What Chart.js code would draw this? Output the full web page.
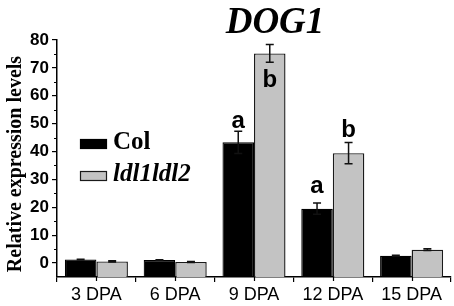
<!DOCTYPE html>
<html>
<head>
<meta charset="utf-8">
<script src="https://cdn.jsdelivr.net/npm/chart.js@4.4.1/dist/chart.umd.min.js"></script>
<style>
html,body{margin:0;padding:0;background:#fff;}
#wrap{width:454px;height:306px;}
</style>
</head>
<body>
<div id="wrap"><canvas id="c" width="454" height="306"></canvas></div>
<script>
// ---- data ----
const categories = ['3 DPA', '6 DPA', '9 DPA', '12 DPA', '15 DPA'];
const seriesNames = ['Col', 'ldl1ldl2'];
const colValues = [1.3, 1.1, 43.3, 19.5, 2.6];
const colErrors = [0.1, 0.1, 4.0, 2.0, 0.2];
const ldlValues = [0.6, 0.4, 75.2, 39.4, 4.8];
const ldlErrors = [0.2, 0.2, 3.2, 3.8, 0.3];
const colLetters = ['', '', 'a', 'a', ''];
const ldlLetters = ['', '', 'b', 'b', ''];
const yTicks = [0, 10, 20, 30, 40, 50, 60, 70, 80];
const yMinorTicks = [5, 15, 25, 35, 45, 55, 65, 75];
const yMin = -5, yMax = 80;
const titleText = 'DOG1';
const yTitleText = 'Relative expression levels';

// ---- styles (pixel offsets for significance letters) ----
const letterGap = { col: [0, 0, 3, 10, 0], ldl: [0, 0, -34, 6, 0] }; // negative => inside bar, below top

const SERIF = '"Liberation Serif", "Times New Roman", serif';
const SANS = '"Liberation Sans", Arial, sans-serif';

const extras = {
  id: 'extras',
  afterDatasetsDraw(chart) {
    const ctx = chart.ctx;
    const y = chart.scales.y, x = chart.scales.x;
    const sets = [
      { vals: colValues, errs: colErrors, letters: colLetters, gap: letterGap.col },
      { vals: ldlValues, errs: ldlErrors, letters: ldlLetters, gap: letterGap.ldl }
    ];
    ctx.save();
    sets.forEach((s, di) => {
      const meta = chart.getDatasetMeta(di);
      meta.data.forEach((el, i) => {
        const cx = el.x;
        const top = y.getPixelForValue(s.vals[i] + s.errs[i]);
        const bot = y.getPixelForValue(s.vals[i] - s.errs[i]);
        ctx.strokeStyle = '#111';
        ctx.lineWidth = 1.5;
        ctx.beginPath();
        ctx.moveTo(cx, top); ctx.lineTo(cx, bot);
        ctx.moveTo(cx - 4, top); ctx.lineTo(cx + 4, top);
        ctx.moveTo(cx - 4, bot); ctx.lineTo(cx + 4, bot);
        ctx.stroke();
        if (s.letters[i]) {
          ctx.fillStyle = '#000';
          ctx.font = 'bold 24px ' + SANS;
          ctx.textAlign = 'center';
          ctx.textBaseline = 'alphabetic';
          let by;
          if (s.gap[i] < 0) by = y.getPixelForValue(s.vals[i]) - s.gap[i];
          else by = top - s.gap[i];
          ctx.fillText(s.letters[i], cx, by);
        }
      });
    });
    // minor ticks
    ctx.strokeStyle = '#000';
    ctx.lineWidth = 1.2;
    ctx.beginPath();
    yMinorTicks.forEach(v => {
      const py = Math.round(y.getPixelForValue(v)) + 0.5;
      ctx.moveTo(y.right - 3, py); ctx.lineTo(y.right, py);
    });
    categories.forEach((c, i) => {
      const px = Math.round(x.getPixelForValue(i)) + 0.5;
      ctx.moveTo(px, x.top); ctx.lineTo(px, x.top + 4);
    });
    ctx.stroke();
    ctx.restore();
  },
  afterDraw(chart) {
    const ctx = chart.ctx;
    ctx.save();
    // title
    ctx.fillStyle = '#000';
    ctx.font = 'italic bold 37px ' + SERIF;
    ctx.textAlign = 'center';
    ctx.textBaseline = 'alphabetic';
    ctx.fillText(titleText, 275, 33);
    // y title
    ctx.save();
    ctx.translate(21, 164);
    ctx.rotate(-Math.PI / 2);
    ctx.font = 'bold 20px ' + SERIF;
    ctx.textAlign = 'center';
    ctx.textBaseline = 'alphabetic';
    ctx.fillText(yTitleText, 0, 0);
    ctx.restore();
    // legend
    const ds = chart.data.datasets;
    const rows = [{ y: 149, font: 'bold 25px ' + SERIF }, { y: 181, font: 'italic bold 25px ' + SERIF }];
    rows.forEach((r, i) => {
      ctx.fillStyle = ds[i].backgroundColor;
      ctx.fillRect(80, r.y - 10, 27, 10);
      ctx.strokeStyle = ds[i].borderColor;
      ctx.lineWidth = 1.2;
      ctx.strokeRect(80.5, r.y - 9.5, 26, 9);
      ctx.fillStyle = '#000';
      ctx.font = r.font;
      ctx.textAlign = 'left';
      ctx.fillText(seriesNames[i], 113, r.y);
    });
    ctx.restore();
  }
};

new Chart(document.getElementById('c'), {
  type: 'bar',
  data: {
    labels: categories,
    datasets: [
      { label: seriesNames[0], data: colValues, backgroundColor: '#000000', borderColor: '#000000', borderWidth: 1.2, base: yMin, categoryPercentage: 0.8, barPercentage: 1.0 },
      { label: seriesNames[1], data: ldlValues, backgroundColor: '#c3c3c3', borderColor: '#1a1a1a', borderWidth: 1.4, base: yMin, categoryPercentage: 0.8, barPercentage: 1.0 }
    ]
  },
  options: {
    responsive: false,
    animation: false,
    devicePixelRatio: 1,
    layout: { padding: { top: 40, right: 3, left: 0, bottom: 0 } },
    plugins: { legend: { display: false }, title: { display: false }, tooltip: { enabled: false } },
    scales: {
      x: {
        offset: true,
        grid: { offset: true, drawOnChartArea: false, drawTicks: true, tickLength: 5, color: '#000', lineWidth: 1.2 },
        border: { color: '#000', width: 1.5 },
        ticks: { color: '#000', font: { family: SANS, size: 18 }, padding: 2, maxRotation: 0 },
        afterFit(s) { s.height = 29; }
      },
      y: {
        min: yMin, max: yMax,
        afterBuildTicks(s) { s.ticks = yTicks.map(v => ({ value: v })); },
        grid: { drawOnChartArea: false, drawTicks: true, tickLength: 5, color: '#000', lineWidth: 1.2 },
        border: { color: '#000', width: 1.5 },
        ticks: { color: '#000', font: { family: SANS, size: 17, weight: 'bold' }, padding: 3 },
        afterFit(s) { s.width = 57; }
      }
    }
  },
  plugins: [extras]
});
</script>
</body>
</html>
